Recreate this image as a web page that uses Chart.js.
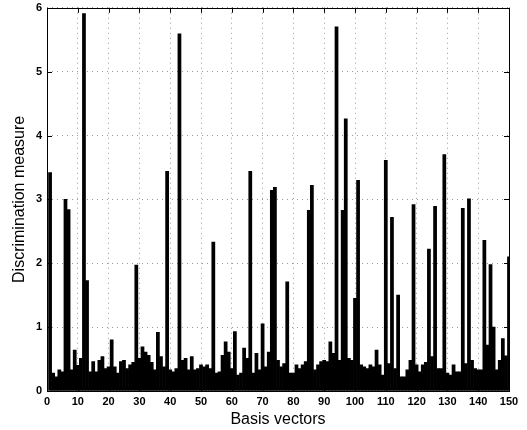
<!DOCTYPE html>
<html>
<head>
<meta charset="utf-8">
<script src="https://cdn.jsdelivr.net/npm/chart.js@4"></script>
<style>
  html, body { margin: 0; padding: 0; background: #fff; }
  #wrap { width: 527px; height: 430px; }
</style>
</head>
<body>
<div id="wrap"><canvas id="chart" width="527" height="430"></canvas></div>
<script>
// basis vector index 1..150
const basisVectors = Array.from({ length: 150 }, (_, i) => i + 1);

// discrimination measure
const measure = [
  3.42, 0.28, 0.22, 0.33, 0.30, 3.00, 2.84, 0.33, 0.64, 0.40,
  0.51, 5.91, 1.73, 0.30, 0.46, 0.30, 0.48, 0.54, 0.35, 0.38,
  0.80, 0.38, 0.28, 0.46, 0.48, 0.35, 0.41, 0.45, 1.97, 0.51,
  0.69, 0.61, 0.56, 0.45, 0.33, 0.92, 0.54, 0.38, 3.44, 0.33,
  0.30, 0.35, 5.59, 0.48, 0.51, 0.33, 0.54, 0.33, 0.35, 0.41,
  0.38, 0.41, 0.35, 2.33, 0.28, 0.30, 0.56, 0.77, 0.61, 0.35,
  0.93, 0.25, 0.28, 0.67, 0.51, 3.44, 0.28, 0.59, 0.33, 1.05,
  0.38, 0.61, 3.14, 3.19, 0.48, 0.38, 0.43, 1.71, 0.28, 0.28,
  0.41, 0.35, 0.41, 0.46, 2.83, 3.22, 0.33, 0.41, 0.46, 0.48,
  0.46, 0.77, 0.59, 5.70, 0.48, 2.83, 4.26, 0.51, 0.48, 1.45,
  3.30, 0.41, 0.38, 0.35, 0.41, 0.38, 0.64, 0.41, 0.25, 3.61,
  0.43, 2.72, 0.35, 1.50, 0.22, 0.22, 0.33, 0.48, 2.92, 0.41,
  0.30, 0.41, 0.45, 2.22, 0.54, 2.89, 0.35, 0.35, 3.70, 0.28,
  0.25, 0.41, 0.30, 0.30, 2.86, 0.43, 3.01, 0.48, 0.35, 0.33,
  0.33, 2.36, 0.72, 1.98, 1.00, 0.33, 0.48, 0.82, 0.55, 2.10
];

const xTicks = [0, 10, 20, 30, 40, 50, 60, 70, 80, 90, 100, 110, 120, 130, 140, 150];
const yTicks = [0, 1, 2, 3, 4, 5, 6];

const FONT = "'Liberation Sans', Arial, Helvetica, sans-serif";

// box + inward tick marks, matlab style
const boxPlugin = {
  id: "box",
  afterDatasetsDraw(chart) {
    const { ctx, chartArea: a, scales } = chart;
    ctx.save();
    ctx.strokeStyle = "#000";
    ctx.lineWidth = 1;
    ctx.beginPath();
    xTicks.forEach((v) => {
      const px = Math.round(scales.x.getPixelForValue(v)) + 0.5;
      ctx.moveTo(px, a.bottom); ctx.lineTo(px, a.bottom - 5);
      ctx.moveTo(px, a.top); ctx.lineTo(px, a.top + 5);
    });
    yTicks.forEach((v) => {
      const py = Math.round(scales.y.getPixelForValue(v)) + 0.5;
      ctx.moveTo(a.left, py); ctx.lineTo(a.left + 5, py);
      ctx.moveTo(a.right, py); ctx.lineTo(a.right - 5, py);
    });
    ctx.stroke();
    ctx.strokeRect(Math.round(a.left) + 0.5, Math.round(a.top) + 0.5,
      Math.round(a.right - a.left), Math.round(a.bottom - a.top));
    ctx.restore();
  },
};

new Chart(document.getElementById("chart").getContext("2d"), {
  type: "bar",
  data: {
    datasets: [
      {
        label: "Discrimination measure",
        data: basisVectors.map((b, i) => ({ x: b, y: measure[i] })),
        backgroundColor: "#000",
        borderWidth: 0,
        barPercentage: 1.0,
        categoryPercentage: 1.0,
      },
    ],
  },
  options: {
    responsive: false,
    animation: false,
    layout: { padding: { top: 7, right: 18, left: 0, bottom: 0 } },
    plugins: {
      legend: { display: false },
      tooltip: { enabled: false },
    },
    scales: {
      x: {
        type: "linear",
        min: 0,
        max: 150,
        offset: false,
        afterBuildTicks: (s) => { s.ticks = xTicks.map((v) => ({ value: v })); },
        afterFit: (s) => { s.height = 39; },
        grid: { color: "#9a9a9a", drawTicks: false, offset: false },
        border: { display: false, dash: [1, 4] },
        ticks: { color: "#000", padding: 4, maxRotation: 0, font: { family: FONT, size: 11, weight: "bold" } },
        title: { display: true, text: "Basis vectors", color: "#000", padding: { top: 0, bottom: 1 }, font: { family: FONT, size: 16 } },
      },
      y: {
        min: 0,
        max: 6,
        afterBuildTicks: (s) => { s.ticks = yTicks.map((v) => ({ value: v })); },
        afterFit: (s) => { s.width = 47; },
        grid: { color: "#9a9a9a", drawTicks: false },
        border: { display: false, dash: [1, 4] },
        ticks: { color: "#000", padding: 5, font: { family: FONT, size: 11, weight: "bold", lineHeight: 0.5 } },
        title: { display: true, text: "Discrimination measure", color: "#000", padding: { top: 10, bottom: 0 }, font: { family: FONT, size: 16 } },
      },
    },
  },
  plugins: [boxPlugin],
});
</script>
</body>
</html>
